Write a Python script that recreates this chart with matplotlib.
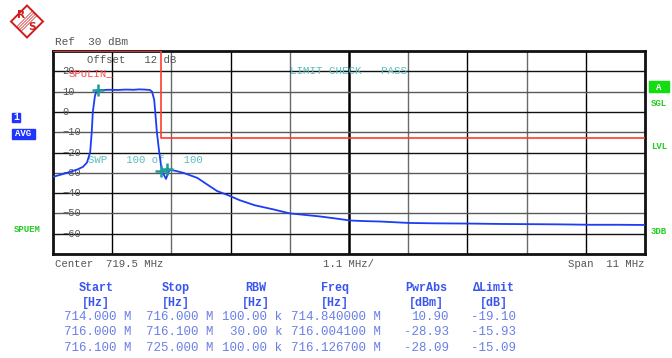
import numpy as np
import matplotlib
matplotlib.use("Agg")
import matplotlib.pyplot as plt
from matplotlib.patches import Polygon, Rectangle

# trace (MHz, dBm)
freq = [714.00, 714.16, 714.32, 714.46, 714.56, 714.63, 714.69, 714.72, 714.74,
        714.78, 714.82, 714.90, 715.05, 715.20, 715.35, 715.50, 715.60, 715.70,
        715.80, 715.84, 715.88, 715.90, 715.93, 715.97, 716.01, 716.04, 716.10,
        716.14, 716.17, 716.27, 716.42, 716.68, 716.85, 717.05, 717.25, 717.47,
        717.75, 718.09, 718.40, 718.70, 718.96, 719.25, 719.52, 719.80, 720.08,
        720.61, 721.10, 721.71, 722.30, 722.86, 723.40, 723.98, 724.50, 725.00]
level = [-32.0, -30.8, -29.5, -28.3, -27.0, -25.0, -20.0, -10.0, 0.0,
         8.0, 10.9, 10.8, 10.9, 10.8, 11.0, 10.9, 11.1, 11.0,
         10.8, 10.0, 6.0, 0.0, -10.0, -19.0, -27.0, -30.0, -33.0,
         -30.0, -28.5, -29.0, -30.0, -32.5, -35.5, -39.0, -41.0, -43.5,
         -46.0, -48.0, -50.0, -50.8, -51.5, -52.5, -53.5, -53.8, -54.0,
         -54.7, -54.9, -55.0, -55.2, -55.3, -55.4, -55.6, -55.6, -55.7]

limit_f = [714.0, 716.0, 716.0, 725.0]
limit_v = [30.0, 30.0, -13.0, -13.0]

marker_f = [714.84, 716.0041, 716.1267]
marker_v = [10.90, -28.93, -28.09]

yticks = [20, 10, 0, -10, -20, -30, -40, -50, -60]

col_head = ["Start", "Stop", "RBW", "Freq", "PwrAbs", "\u0394Limit"]
col_unit = ["[Hz]", "[Hz]", "[Hz]", "[Hz]", "[dBm]", "[dB]"]
rows = [["714.000 M", "716.000 M", "100.00 k", "714.840000 M", "10.90", "-19.10"],
        ["716.000 M", "716.100 M", "30.00 k", "716.004100 M", "-28.93", "-15.93"],
        ["716.100 M", "725.000 M", "100.00 k", "716.126700 M", "-28.09", "-15.09"]]

W, H = 672, 358
mono = "Liberation Mono"
grey = "#555555"
teal = "#5bbdbd"
green = "#22cc22"
blue = "#1f35ff"
red = "#cc1f1f"

fig = plt.figure(figsize=(W / 100, H / 100), dpi=100)
fig.patch.set_facecolor("white")


def px(x, y):
    return x / W, 1 - y / H


ax = fig.add_axes([53 / W, 1 - 254 / H, 592 / W, 203 / H])
ax.set_xlim(714, 725)
ax.set_ylim(-70, 30)
ax.set_xticks([])
ax.set_yticks([])
for s in ax.spines.values():
    s.set_linewidth(2.0)
    s.set_color("#111111")

# grid
for i in range(1, 10):
    f = 714 + i * 1.1
    c = "#000000" if i % 2 == 1 else "#6a6a6a"
    ax.axvline(f, color=c, lw=1.8 if i == 5 else 1.0, zorder=1)
for i, v in enumerate(range(20, -70, -10)):
    c = "#111111" if i % 2 == 0 else "#5a5a5a"
    ax.axhline(v, color=c, lw=1.0, zorder=1)

for v in yticks:
    ax.text(714.17, v, str(v).replace("-", "\u2212"), color=grey, fontsize=7.5,
            family=mono, va="center", ha="left", zorder=3)

ax.plot(limit_f, limit_v, color="#ff3b30", lw=1.2, zorder=4)
ax.plot(freq, level, color="#1c3cf5", lw=1.3, zorder=5)
ax.plot(marker_f, marker_v, "+", color="#1f9a9a", ms=8, mew=1.8, zorder=6)

ax.text(714.63, 25.8, "Offset   12 dB", color=grey, fontsize=7.7, family=mono, va="center")
ax.text(714.29, 19.2, "SPULIN_", color="#ff4a4a", fontsize=7.7, family=mono, va="center")
ax.text(718.4, 20.2, "LIMIT CHECK   PASS", color=teal, fontsize=7.8, family=mono, va="center")
ax.text(714.65, -23.8, "SWP   100 of   100", color=teal, fontsize=7.7, family=mono, va="center")

# R&S logo
cx, cy, r = 27, 21.5, 16
diamond = [px(cx, cy - r), px(cx + r, cy), px(cx, cy + r), px(cx - r, cy)]
fig.patches.append(Polygon(diamond, closed=True, fill=False, edgecolor=red,
                           lw=1.4, transform=fig.transFigure))
for d in (-2.5, -1, 0.5, 2):
    x0, y0 = px(cx - 8 + d, cy + 8 + d)
    x1, y1 = px(cx + 8 + d, cy - 8 + d)
    fig.add_artist(plt.Line2D([x0, x1], [y0, y1], color=red, lw=0.5,
                              transform=fig.transFigure))
fig.text(*px(21, 15.5), "R", color=red, fontsize=7.5, weight="bold",
         ha="center", va="center")
fig.text(*px(32, 27.5), "S", color=red, fontsize=7.5, weight="bold",
         ha="center", va="center")

fig.text(*px(55, 42), "Ref  30 dBm", color=grey, fontsize=8, family=mono, va="center")

# left side labels
fig.patches.append(Rectangle(px(12, 122), 8 / W, 9 / H, color=blue, transform=fig.transFigure))
fig.text(*px(16, 117), "1", color="white", fontsize=7, family=mono, weight="bold",
         ha="center", va="center")
fig.patches.append(Rectangle(px(12, 139), 23 / W, 10 / H, color=blue, transform=fig.transFigure))
fig.text(*px(23.5, 134), "AVG", color="white", fontsize=6.5, family=mono, weight="bold",
         ha="center", va="center")
fig.text(*px(14, 229), "SPUEM", color=green, fontsize=6.5, family=mono, weight="bold", va="center")

# right side labels
fig.patches.append(Rectangle(px(649, 92), 20 / W, 11 / H, color="#11dd11", transform=fig.transFigure))
fig.text(*px(659, 87), "A", color="white", fontsize=6.5, family=mono, weight="bold",
         ha="center", va="center")
for y, t in [(103, "SGL"), (146, "LVL"), (231, "3DB")]:
    fig.text(*px(651, y), t, color=green, fontsize=6.5, family=mono, weight="bold", va="center")

# bottom annotation
fig.text(*px(55, 264), "Center  719.5 MHz", color=grey, fontsize=7.7, family=mono, va="center")
fig.text(*px(323, 264), "1.1 MHz/", color=grey, fontsize=7.7, family=mono, va="center")
fig.text(*px(644, 264), "Span  11 MHz", color=grey, fontsize=7.7, family=mono, va="center", ha="right")

# marker table
head_x = [96, 176, 256, 335, 426, 494]
data_x = [131, 213, 282, 381, 449, 516]
for hx, h, u in zip(head_x, col_head, col_unit):
    fig.text(*px(hx, 288), h, color="#3a55f0", fontsize=8.5, family=mono, weight="bold",
             ha="center", va="center")
    fig.text(*px(hx, 303), u, color="#3a55f0", fontsize=8.5, family=mono, weight="bold",
             ha="center", va="center")
for ry, row in zip([317, 332, 348], rows):
    for dx, val in zip(data_x, row):
        fig.text(*px(dx, ry), val, color="#6b80e6", fontsize=9, family=mono,
                 ha="right", va="center")

fig.savefig("out.png", dpi=100, facecolor="white")
